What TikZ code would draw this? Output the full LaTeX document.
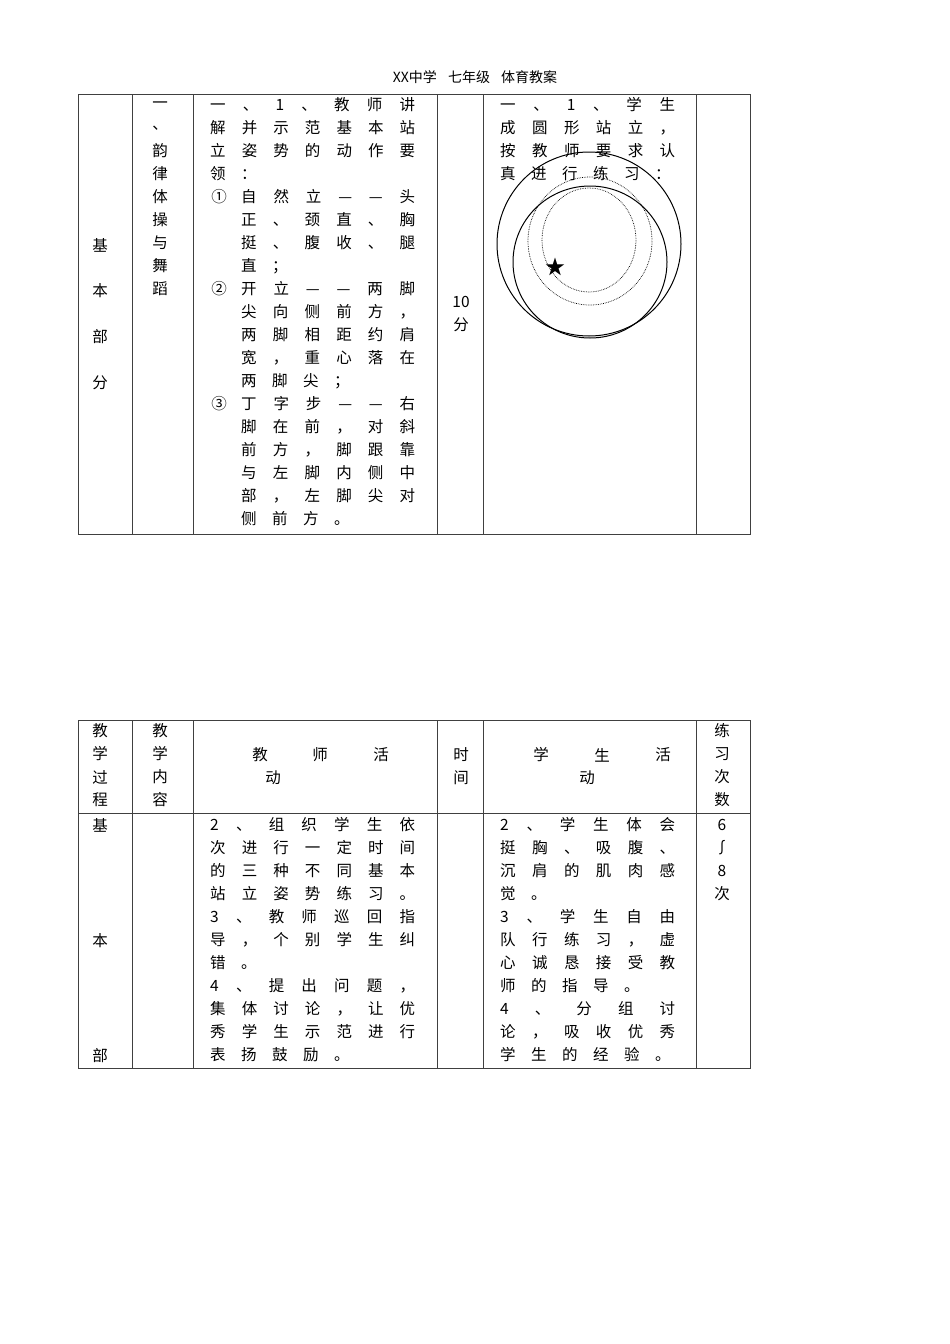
\documentclass[tikz,border=0pt]{standalone}
\usepackage{fontspec}
\setmainfont{Noto Sans CJK SC}
\newcommand\jst[1]{\ifx#1\relax\else#1\hfill\expandafter\jst\fi}
\newlength\cw
\newcommand\spcx[1]{\ifx#1\relax\else\makebox[\cw][l]{#1}\expandafter\spcx\fi}
\newcommand\JL[4]{\node[anchor=west,inner sep=0pt] at (#1,#2) {\hbox to #3pt{\jst #4\relax\unskip}};}
\newcommand\SL[4]{\node[anchor=west,inner sep=0pt] at (#1,#2) {\setlength\cw{#3pt}\spcx #4\relax};}
\newcommand\VC[3]{\foreach \ch [count=\i from 0] in {#3} {\node[inner sep=0pt] at (#1,#2+23*\i) {\ch};}}
\begin{document}
\begin{tikzpicture}[x=1pt,y=-1pt,font=\fontsize{15.5}{18}\selectfont,
  grid/.style={draw=black!75,line width=0.9pt}]
\useasboundingbox (0,0) rectangle (950,1344);
\node[font=\fontsize{14}{16}\selectfont] (title) at (475,77) {XX中学\hspace{0.8em}七年级\hspace{0.8em}体育教案};
% table 1
\draw[grid] (78,94) rectangle (750,534);
\foreach \x in {132,193,437,483,696} \draw[grid] (\x,94) -- (\x,534);
\VC{100}{245}{基,,本,,部,,分}
\VC{160}{105}{一,、,韵,律,体,操,与,舞,蹈}
\node at (461,302) {10};
\node at (461,325) {分};
\JL{210}{105}{205}{一、1、教师讲}
\JL{210}{128}{205}{解并示范基本站}
\JL{210}{151}{205}{立姿势的动作要}
\SL{210}{174}{31}{领：}
\node at (219,197) {①};
\JL{241}{197}{174}{自然立——头}
\JL{241}{220}{174}{正、颈直、胸}
\JL{241}{243}{174}{挺、腹收、腿}
\SL{241}{266}{31}{直；}
\node at (219,289) {②};
\JL{241}{289}{174}{开立——两脚}
\JL{241}{312}{174}{尖向侧前方，}
\JL{241}{335}{174}{两脚相距约肩}
\JL{241}{358}{174}{宽，重心落在}
\SL{241}{381}{31}{两脚尖；}
\node at (219,404) {③};
\JL{241}{404}{174}{丁字步——右}
\JL{241}{427}{174}{脚在前，对斜}
\JL{241}{450}{174}{前方，脚跟靠}
\JL{241}{473}{174}{与左脚内侧中}
\JL{241}{496}{174}{部，左脚尖对}
\SL{241}{519}{31}{侧前方。}
\JL{500}{105}{175}{一、1、学生}
\JL{500}{128}{175}{成圆形站立，}
\JL{500}{151}{175}{按教师要求认}
\SL{500}{174}{31}{真进行练习：}
\draw[line width=1pt] (589,244) circle (92);
\draw[line width=1pt] (590,262) ellipse (77 and 76);
\draw[densely dotted,line width=0.7pt] (590,241) ellipse (62 and 64);
\draw[densely dotted,line width=0.7pt] (589,240) ellipse (47 and 52);
\node[font=\fontsize{20}{20}\selectfont,inner sep=0pt] (star) at (555,267) {★};
% table 2
\draw[grid] (78,720) rectangle (750,1068);
\draw[grid] (78,813) -- (750,813);
\foreach \x in {132,193,437,483,696} \draw[grid] (\x,720) -- (\x,1068);
\VC{100}{731}{教,学,过,程}
\VC{160}{731}{教,学,内,容}
\VC{722}{731}{练,习,次,数}
\VC{461}{755}{时,间}
\node at (260,755) {教}; \node at (320,755) {师}; \node at (381,755) {活};
\node at (273,778) {动};
\node at (541,755) {学}; \node at (602,755) {生}; \node at (663,755) {活};
\node at (587,778) {动};
\node at (100,825) {基}; \node at (100,941) {本}; \node at (100,1056) {部};
\JL{210}{825}{205}{2、组织学生依}
\JL{210}{848}{205}{次进行一定时间}
\JL{210}{871}{205}{的三种不同基本}
\JL{210}{894}{205}{站立姿势练习。}
\JL{210}{917}{205}{3、教师巡回指}
\JL{210}{940}{205}{导，个别学生纠}
\SL{210}{963}{31}{错。}
\JL{210}{986}{205}{4、提出问题，}
\JL{210}{1009}{205}{集体讨论，让优}
\JL{210}{1032}{205}{秀学生示范进行}
\SL{210}{1055}{31}{表扬鼓励。}
\JL{500}{825}{175}{2、学生体会}
\JL{500}{848}{175}{挺胸、吸腹、}
\JL{500}{871}{175}{沉肩的肌肉感}
\SL{500}{894}{31}{觉。}
\JL{500}{917}{175}{3、学生自由}
\JL{500}{940}{175}{队行练习，虚}
\JL{500}{963}{175}{心诚恳接受教}
\SL{500}{986}{31}{师的指导。}
\JL{500}{1009}{175}{4、分组讨}
\JL{500}{1032}{175}{论，吸收优秀}
\SL{500}{1055}{31}{学生的经验。}
\VC{722}{825}{6,∫,8,次}
\end{tikzpicture}
\end{document}
